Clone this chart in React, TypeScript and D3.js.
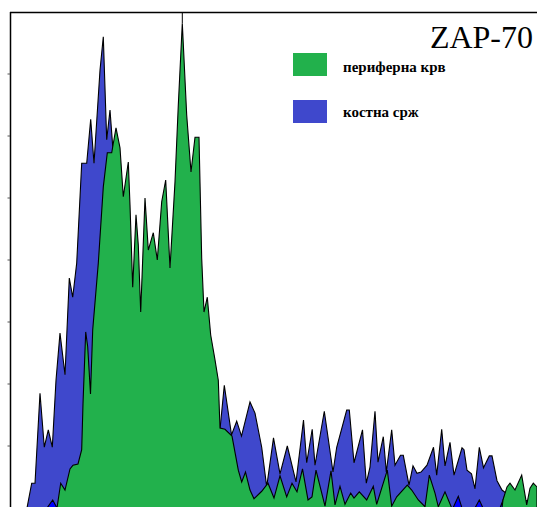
import React from 'react';
import * as d3 from 'd3';

const W = 537;
const H = 507;

const title = 'ZAP-70';
const legendLabels = ['периферна крв', 'костна срж'];
const seriesColors = ['#22b14c', '#3f48cc', '#0000ff'];
const yTicks = [10, 20, 30, 40, 50, 60, 70];

// bone marrow (костна срж)
const marrowChannel = [17, 21.7, 25, 30, 34.3, 38.3, 42.3, 46, 50, 55, 59.3, 62.7, 66.7, 71.7, 76.7, 80.7, 84, 90, 93.3, 96.7, 100, 103,
  110, 115, 122, 130.7, 140, 150, 160, 170, 180, 190, 194, 200, 205, 209,
  214.3, 221.5, 226.7, 231.5, 240, 245, 251.7, 256.7, 263.5, 270, 277.3, 286, 293.5, 296.7, 302.2, 305, 314.3, 323, 326.7, 336.7, 339.3,
  344, 352.5, 356.3, 360, 365, 368, 373.3, 376.3, 381.7, 385, 390.5, 393.3, 399, 403, 407, 411, 417, 423.5, 426.7, 431.7, 435, 440, 444,
  452, 454, 457, 461.5, 465, 469.3, 473.5, 479.3, 482, 487, 492, 497, 502, 510, 520, 527];
const marrowCount = [0, 4.0, 4.0, 18.5, 9.8, 12.6, 9.8, 20.6, 28.2, 21.5, 37.1, 34.0, 39.5, 55.6, 55.6, 62.7, 55.6, 70.6, 76.0, 59.4, 64.2, 57.7,
  47.3, 41.6, 33.5, 29.5, 27.9, 27.1, 26.3, 24.7, 23.9, 22.3, 20.6, 17.4, 15.0, 11.0,
  19.8, 11.8, 14.0, 11.6, 17.1, 15.3, 9.8, 3.4, 11.3, 5.5, 10.0, 4.2, 14.2, 7.3, 12.7, 6.9, 15.6, 5.8, 9.8, 15.8, 15.8,
  7.3, 12.6, 4.0, 6.6, 15.6, 7.4, 11.5, 5.8, 12.6, 6.9, 8.5, 8.5, 3.7, 6.8, 5.6, 5.8, 6.9, 9.8, 5.3, 12.7, 6.8, 10.6, 5.3,
  9.7, 9.4, 6.1, 5.5, 3.1, 9.8, 6.5, 8.4, 8.4, 4.4, 2.9, 2.3, 0.5, 1.0, 1.3, 1.0];

// peripheral blood (периферна крв)
const bloodChannel = [47, 50.7, 55, 60, 63, 68, 71.7, 73, 75.7, 77.7, 80.5, 82.7, 88.3, 93.3, 97.3, 101.7, 106, 110, 113.3, 118.3, 120, 122.7,
  126, 128.3, 130.7, 135, 138.3, 143.3, 147.3, 151.7, 155.7, 160, 165, 168.3, 172.3, 176.7, 181, 185, 189, 191.7, 194, 197.3, 200.7,
  205, 208.3, 210, 215, 222, 228.3, 231.7, 235.5, 240, 244, 251.7, 258, 264, 270, 276.7, 282, 287, 292.5, 298, 302, 306, 315, 321,
  325, 330, 335, 340.7, 344, 349.3, 356.7, 363.3, 366.7, 377.3, 381.7, 386.7, 397.3, 401.7, 408.3, 415, 419.3, 425, 428.3, 435, 441.7,
  492, 493, 497, 500, 505, 511.7, 516.7, 520, 523.3, 527];
const bloodCount = [0, 4.0, 2.9, 6.3, 6.9, 7.1, 9.4, 16.8, 28.4, 26.0, 18.4, 28.7, 39.5, 51.8, 57.3, 57.3, 61.3, 58.1, 50.2, 55.8, 48.9, 35.6,
  47.3, 42.4, 31.6, 50.0, 41.6, 44.4, 40.0, 49.4, 52.9, 38.7, 52.6, 65.0, 78.2, 63.4, 54.2, 59.8, 59.8, 40.3, 31.6, 34.0, 27.9,
  23.9, 20.6, 12.9, 12.7, 11.6, 6.1, 4.2, 5.8, 2.9, 1.5, 2.7, 4.0, 1.6, 5.2, 1.8, 4.0, 2.6, 6.3, 1.3, 1.8, 6.1, 0.3, 6.0,
  0.5, 3.5, 0.6, 2.4, 1.6, 2.6, 1.3, 3.5, 0.6, 6.1, 0.3, 1.8, 3.7, 2.9, 1.3, 0.2, 5.3, 2.4, 0.2, 2.6, 0,
  0, 1.3, 3.4, 4.0, 2.9, 5.3, 0.5, 3.2, 4.0, 3.4];

// third (unlabelled) histogram, only visible at the very bottom
const controlChannel = [37, 42.7, 47, 443, 448.3, 452, 465, 469.3, 473, 490, 495, 498];
const controlCount = [0, 1.3, 0, 0, 1.9, 0, 0, 1.3, 0, 0, 2.1, 0];

export default function App() {
  const x = d3.scaleLinear().domain([0, 527]).range([10, 537]);
  const y = d3.scaleLinear().domain([0, 80]).range([508, 12]);
  const area = d3
    .area<[number, number]>()
    .x((d) => x(d[0]))
    .y0(y(-2))
    .y1((d) => y(d[1]))
    .curve(d3.curveLinear);

  const zip = (a: number[], b: number[]) => a.map((v, i) => [v, b[i]] as [number, number]);
  const marrow = zip(marrowChannel, marrowCount);
  const blood = zip(bloodChannel, bloodCount);
  const control = zip(controlChannel, controlCount);

  const peakIdx = d3.maxIndex(bloodCount);
  const peakX = x(bloodChannel[peakIdx]);
  const peakY = y(bloodCount[peakIdx]);

  return (
    <svg width={W} height={H} style={{ position: 'absolute', left: 0, top: 0, display: 'block', background: '#fff' }}>
      <defs>
        <clipPath id="plot">
          <rect x={10} y={12} width={W - 10} height={H} />
        </clipPath>
      </defs>
      <g clipPath="url(#plot)">
        <path d={area(marrow) || ''} fill={seriesColors[1]} stroke="#000" strokeWidth={1.1} strokeLinejoin="miter" />
        <path d={area(control) || ''} fill={seriesColors[2]} stroke="#000" strokeWidth={1.1} />
        <path d={area(blood) || ''} fill={seriesColors[0]} stroke="#000" strokeWidth={1.1} strokeLinejoin="miter" />
      </g>
      <line x1={peakX} x2={peakX} y1={12} y2={peakY} stroke="#000" strokeWidth={1} />
      <line x1={10.5} x2={10.5} y1={12} y2={H} stroke="#000" strokeWidth={1.5} />
      <line x1={10} x2={W} y1={12.5} y2={12.5} stroke="#000" strokeWidth={1.5} />
      {yTicks.map((t) => (
        <line key={t} x1={7.5} x2={10} y1={y(t)} y2={y(t)} stroke="#555" strokeWidth={1} />
      ))}
      <text x={533} y={48} textAnchor="end" fontFamily="'Liberation Serif', serif" fontSize={32} fill="#000">
        {title}
      </text>
      {legendLabels.map((label, i) => (
        <g key={label}>
          <rect x={293} y={53 + i * 47} width={34} height={23} fill={seriesColors[i]} />
          <text x={343} y={72 + i * 45} fontFamily="'Liberation Serif', serif" fontWeight="bold" fontSize={15} fill="#000">
            {label}
          </text>
        </g>
      ))}
    </svg>
  );
}
